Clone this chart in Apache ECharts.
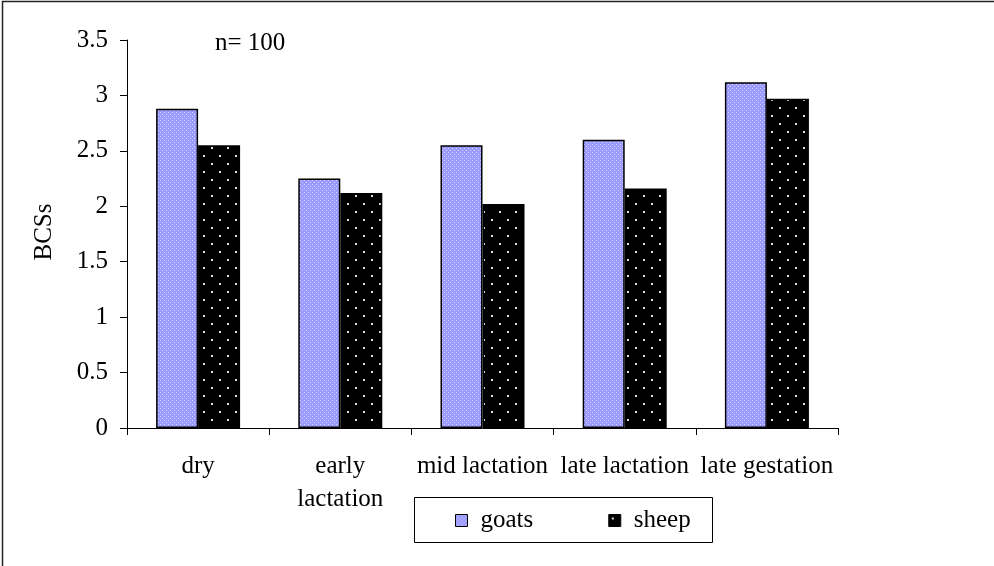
<!DOCTYPE html>
<html>
<head>
<meta charset="utf-8">
<script src="https://cdn.jsdelivr.net/npm/echarts@6/dist/echarts.min.js"></script>
<style>
html,body{margin:0;padding:0;background:#fff;}
#chart{width:994px;height:566px;}
</style>
</head>
<body>
<div id="chart"></div>
<script>
const categories = ['dry', 'early\nlactation', 'mid lactation', 'late lactation', 'late gestation'];
const goats = [2.88, 2.25, 2.55, 2.60, 3.12];
const sheep = [2.55, 2.12, 2.02, 2.16, 2.97];
const seriesNames = ['goats', 'sheep'];
const yTicks = { min: 0, max: 3.5, interval: 0.5 };
const annotation = 'n= 100';
const yTitle = 'BCSs';

const FONT = 'Liberation Serif';
const FS = 25;

function makePattern(w, h, bg, dotColor, dots, size) {
  const c = document.createElement('canvas');
  c.width = w; c.height = h;
  const ctx = c.getContext('2d');
  ctx.fillStyle = bg; ctx.fillRect(0, 0, w, h);
  ctx.fillStyle = dotColor;
  dots.forEach(d => ctx.fillRect(d[0], d[1], size, size));
  return c;
}
const goatPat = makePattern(4, 4, '#9a9aff', '#d8d8ff', [[0,0],[2,2]], 1);
const sheepPat = makePattern(16, 16, '#000000', '#e0e0e0', [[3,3],[11,11]], 2);

const chart = echarts.init(document.getElementById('chart'), null, { renderer: 'canvas' });
chart.setOption({
  animation: false,
  backgroundColor: '#fff',
  textStyle: { fontFamily: FONT },
  grid: { left: 127, right: 156, top: 40, bottom: 138, containLabel: false },
  xAxis: {
    type: 'category',
    data: categories,
    axisLine: { lineStyle: { color: '#000', width: 1 } },
    axisTick: { show: true, length: 7, lineStyle: { color: '#000' } },
    axisLabel: { fontFamily: FONT, fontSize: FS, color: '#000', margin: 22, lineHeight: 33, interval: 0 }
  },
  yAxis: {
    type: 'value',
    min: yTicks.min, max: yTicks.max, interval: yTicks.interval,
    splitLine: { show: false },
    axisLine: { show: true, lineStyle: { color: '#000', width: 1 } },
    axisTick: { show: true, length: 7, lineStyle: { color: '#000' } },
    axisLabel: { fontFamily: FONT, fontSize: FS, color: '#000', margin: 19 }
  },
  legend: {
    data: seriesNames,
    left: 450, top: 503,
    icon: 'rect', itemWidth: 12, itemHeight: 12, itemGap: 75,
    textStyle: { fontFamily: FONT, fontSize: FS, color: '#000', padding: [0,0,0,8] },
    itemStyle: { borderColor: '#000', borderWidth: 1 }
  },
  graphic: [
    { type: 'rect', shape: { x: 2.5, y: 1.5, width: 1200, height: 800 }, style: { fill: 'none', stroke: '#222', lineWidth: 1.5 }, silent: true },
    { type: 'rect', shape: { x: 414.5, y: 497.5, width: 298, height: 45 }, style: { fill: 'none', stroke: '#000', lineWidth: 1 }, silent: true, z: 0 },
    { type: 'text', left: 215, top: 31, style: { text: annotation, fontFamily: FONT, fontSize: FS, fill: '#000' } },
    { type: 'text', x: 44, y: 232, rotation: Math.PI / 2, style: { text: yTitle, fontFamily: FONT, fontSize: FS, fill: '#000', align: 'center', verticalAlign: 'middle' } }
  ],
  series: [
    { name: seriesNames[0], type: 'bar', data: goats, barWidth: 42, barGap: '0%',
      itemStyle: { color: { image: goatPat, repeat: 'repeat' }, borderColor: '#000', borderWidth: 1.5 } },
    { name: seriesNames[1], type: 'bar', data: sheep, barWidth: 42, barGap: '0%',
      itemStyle: { color: { image: sheepPat, repeat: 'repeat' }, borderColor: '#000', borderWidth: 1.5 } }
  ]
});
</script>
</body>
</html>
